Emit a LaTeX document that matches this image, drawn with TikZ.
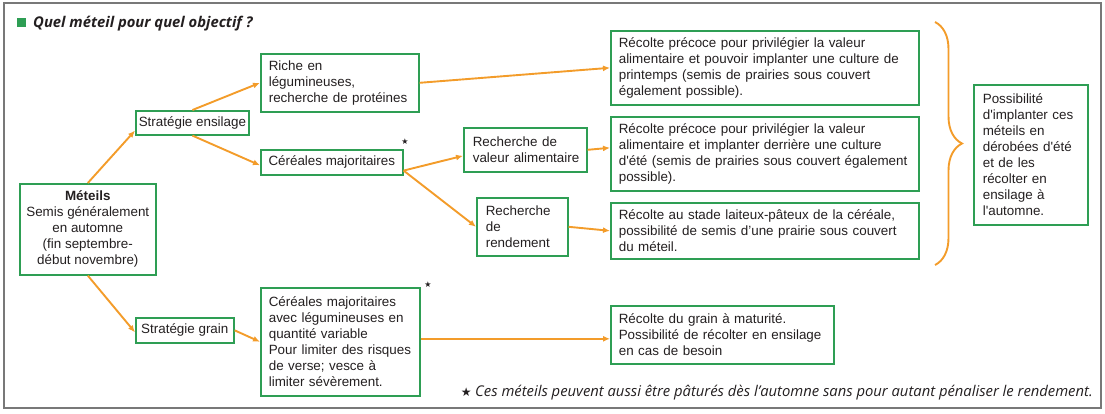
\documentclass[tikz,border=0pt]{standalone}
\usepackage{fontspec}
\setmainfont{Liberation Sans}
\newfontfamily\notefont{Open Sans}
\newfontfamily\symfont{DejaVu Sans}
\usetikzlibrary{arrows.meta, decorations.pathreplacing}

\definecolor{boxgreen}{RGB}{46,158,84}
\definecolor{arrorange}{RGB}{243,156,42}
\definecolor{framegray}{RGB}{120,120,120}
\definecolor{txtgray}{RGB}{35,31,32}

\begin{document}
\begin{tikzpicture}[x=1pt, y=-1pt,
  font=\fontsize{13.4}{16}\selectfont, text=txtgray,
  box/.style={draw=boxgreen, line width=1.6pt, anchor=north west,
              align=left, inner xsep=8pt, inner ysep=4pt},
  cbox/.style={box, align=center, inner xsep=3pt},
  arr/.style={-{Latex[length=7pt, width=6pt]}, draw=arrorange, line width=1.9pt},
  starlbl/.style={font=\symfont\fontsize{8}{8}\selectfont, inner sep=0pt},
  brc/.style={draw=arrorange, line width=1.9pt, decorate,
              decoration={brace, amplitude=27pt}}]

  \useasboundingbox (0,0) rectangle (1105,413);
  \draw[framegray, line width=1.6pt] (4,3) rectangle (1101,408);

  % title
  \node[fill=boxgreen, minimum size=9pt, inner sep=0pt, anchor=north west] (bullet) at (17,18) {};
  \node[anchor=base west, inner sep=0pt,
        font=\notefont\bfseries\itshape\fontsize{14.8}{16}\selectfont] (title) at (33,27)
    {Quel méteil pour quel objectif ?};

  % left column
  \node[cbox, minimum width=136pt, minimum height=91pt] (meteils) at (19,183)
    {\textbf{Méteils}\\Semis généralement\\en automne\\(fin septembre-\\début novembre)};
  \node[cbox, minimum width=113pt, minimum height=24pt] (ensil) at (135,110)
    {Stratégie ensilage};
  \node[cbox, minimum width=98pt, minimum height=25pt] (grain) at (135,317)
    {Stratégie grain};

  % second column
  \node[box, text width=142pt, minimum height=58pt] (riche) at (260,53)
    {Riche en\\légumineuses,\\recherche de protéines};
  \node[cbox, minimum width=142pt, minimum height=25pt] (cermaj) at (260,149)
    {Céréales majoritaires};
  \node[box, text width=143pt, minimum height=108pt] (cergrain) at (260,287)
    {Céréales majoritaires\\avec légumineuses en\\quantité variable\\Pour limiter des risques\\de verse; vesce à\\limiter sévèrement.};
  \node[starlbl] (star1) at (405,142) {★};
  \node[starlbl] (star2) at (428,285) {★};

  % third column
  \node[box, inner xsep=6pt, text width=111pt, minimum height=44pt] (valeur) at (463,127)
    {\hspace*{3pt}Recherche de\\\hspace*{3pt}valeur alimentaire};
  \node[box, inner xsep=9pt, text width=73pt, minimum height=58pt] (rend) at (476,197)
    {Recherche\\de\\rendement};

  % harvest boxes
  \node[box, text width=292pt, minimum height=74pt] (rec1) at (610,30)
    {Récolte précoce pour privilégier la valeur\\alimentaire et pouvoir implanter une culture de\\printemps (semis de prairies sous couvert\\également possible).};
  \node[box, text width=292pt, minimum height=74pt] (rec2) at (610,116)
    {Récolte précoce pour privilégier la valeur\\alimentaire et implanter derrière une culture\\d\textquotesingle été (semis de prairies sous couvert également\\possible).};
  \node[box, text width=292pt, minimum height=56pt] (rec3) at (610,202)
    {Récolte au stade laiteux-pâteux de la céréale,\\possibilité de semis d’une prairie sous couvert\\du méteil.};
  \node[box, text width=207pt, minimum height=58pt] (recgrain) at (610,305)
    {Récolte du grain à maturité.\\Possibilité de récolter en ensilage\\en cas de besoin};

  % right side
  \node[box, inner xsep=9pt, text width=96pt, minimum height=140pt] (poss) at (973,84)
    {Possibilité\\d\textquotesingle implanter ces\\méteils en\\dérobées d\textquotesingle été\\et de les\\récolter en\\ensilage à\\l\textquotesingle automne.};
  \coordinate (brtop) at (935,22);
  \coordinate (brbot) at (935,265);
  \draw[brc] (brtop) -- (brbot);

  \node[anchor=base east, inner sep=0pt] (note) at (1093,396)
    {{\symfont\fontsize{12}{12}\selectfont ★}\ {\notefont\itshape\fontsize{14.8}{16}\selectfont Ces méteils peuvent aussi être pâturés dès l’automne sans pour autant pénaliser le rendement.}};

  % connectors
  \draw[arr] (meteils.north) -- ([yshift=5pt]ensil.south west);
  \draw[arr] (meteils.south) -- ([yshift=-2pt]grain.west);
  \draw[arr] (ensil.north) -- (riche.west);
  \draw[arr] (ensil.south) -- ([yshift=-3pt]cermaj.west);
  \draw[arr] (riche.east) -- (rec1.west);
  \draw[arr] ([yshift=5pt]cermaj.south east) -- ([yshift=-6pt]valeur.west);
  \draw[arr] ([yshift=5pt]cermaj.south east) -- (rend.west);
  \draw[arr] (valeur.east) -- ([yshift=6pt]rec2.west);
  \draw[arr] (rend.east) -- (rec3.west);
  \draw[arr] (grain.east) -- (cergrain.west);
  \draw[arr] ([yshift=3pt]cergrain.east) -- ([yshift=3pt]cergrain.east -| recgrain.west);
\end{tikzpicture}
\end{document}
